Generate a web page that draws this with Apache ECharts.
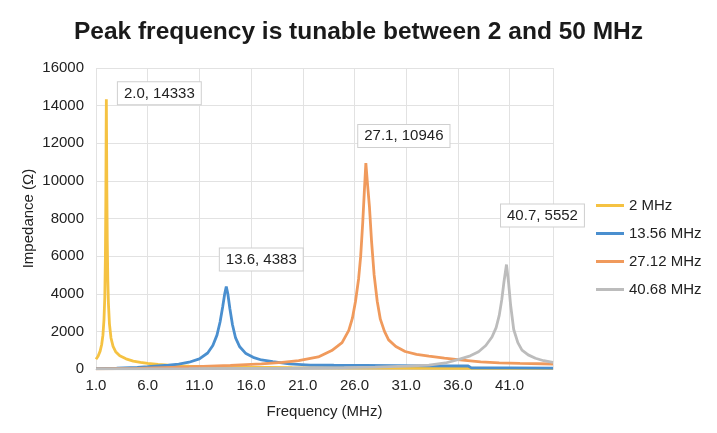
<!DOCTYPE html>
<html lang="en">
<head>
    <meta charset="UTF-8">
    <title>Peak frequency is tunable between 2 and 50 MHz</title>
    <script src="https://cdn.jsdelivr.net/npm/echarts@6/dist/echarts.min.js"></script>
    <style>
        body { margin: 0; background: #fff; }
    </style>
</head>
<body>
    <div id="chart" style="width: 717px; height: 433px;"></div>

    <script>
        // Series names (legend)
        var seriesNames = ['2 MHz', '13.56 MHz', '27.12 MHz', '40.68 MHz'];

        // [frequency MHz, impedance ohm]
        var curve2 = [
            [1.0, 520], [1.2, 680], [1.4, 950], [1.55, 1300], [1.67, 1800], [1.77, 2600],
            [1.85, 3800], [1.91, 6000], [1.95, 9000], [1.98, 12500], [2.0, 14333],
            [2.02, 12500], [2.05, 9500], [2.09, 6800], [2.14, 4800], [2.2, 3500],
            [2.3, 2400], [2.45, 1650], [2.65, 1200], [2.9, 920], [3.3, 700], [3.9, 540],
            [4.6, 420], [5.3, 350], [6.0, 300], [7.0, 240], [8.0, 200], [9.0, 170],
            [10.0, 150], [12.0, 120], [15.0, 95], [20.0, 70], [25.0, 55], [30.0, 45],
            [35.0, 40], [40.0, 35], [45.2, 30]
        ];
        var curve13 = [
            [1.0, 20], [3.0, 50], [5.0, 90], [6.0, 120], [7.0, 160], [8.0, 200], [9.0, 260],
            [10.0, 360], [11.0, 540], [11.8, 850], [12.3, 1250], [12.7, 1800], [13.0, 2500],
            [13.25, 3300], [13.45, 4000], [13.6, 4383], [13.75, 4000], [13.95, 3200],
            [14.2, 2350], [14.5, 1650], [14.9, 1180], [15.5, 820], [16.2, 620], [17.0, 480],
            [18.1, 390], [19.7, 270], [21.7, 210], [24.0, 200], [27.0, 190], [30.0, 180],
            [33.0, 170], [37.0, 160], [37.3, 60], [41.0, 55], [45.2, 50]
        ];
        var curve27 = [
            [1.0, 10], [5.0, 30], [10.0, 110], [14.0, 190], [17.0, 270], [19.0, 350],
            [20.6, 440], [22.5, 640], [23.8, 980], [24.8, 1400], [25.45, 2050], [25.8, 2700],
            [26.1, 3600], [26.4, 4800], [26.6, 6000], [26.8, 7800], [26.95, 9400],
            [27.1, 10946], [27.25, 9900], [27.45, 8600], [27.65, 6800], [27.9, 5000],
            [28.2, 3600], [28.5, 2650], [28.9, 2000], [29.3, 1550], [30.0, 1200],
            [30.9, 930], [32.0, 780], [33.2, 680], [34.7, 580], [36.2, 490], [38.2, 380],
            [40.0, 330], [42.0, 300], [45.2, 265]
        ];
        var curve40 = [
            [1.0, 5], [10.0, 15], [20.0, 40], [25.0, 70], [28.0, 100], [31.0, 150],
            [33.2, 210], [34.8, 320], [36.1, 510], [37.2, 700], [38.0, 920], [38.7, 1250],
            [39.3, 1700], [39.7, 2200], [40.0, 2850], [40.25, 3700], [40.45, 4600],
            [40.7, 5552], [40.9, 4600], [41.1, 3400], [41.4, 2100], [41.8, 1400],
            [42.2, 1000], [42.8, 750], [43.5, 570], [44.3, 440], [45.2, 350]
        ];

        var colors = ['#F5C242', '#4A8FCF', '#F09A5C', '#BCBCBC'];
        // label box offsets from the peak, in pixels
        var labelOffsets = [[53, -6], [35, -27], [38, -27], [36, -49]];

        var font = 'Liberation Sans, Arial, Helvetica, sans-serif';

        function peakOf(arr) {
            var best = arr[0];
            arr.forEach(function (p) { if (p[1] > best[1]) best = p; });
            return best;
        }

        function makeSeries(name, data, i) {
            var pk = peakOf(data);
            return {
                name: name,
                type: 'line',
                data: data,
                showSymbol: false,
                symbol: 'none',
                lineStyle: { width: 2.8, color: colors[i] },
                itemStyle: { color: colors[i] },
                z: 2 + i,
                markPoint: {
                    symbol: 'circle',
                    symbolSize: 0,
                    silent: true,
                    data: [{ coord: pk, value: pk[1] }],
                    label: {
                        show: true,
                        position: 'inside',
                        offset: labelOffsets[i],
                        formatter: pk[0].toFixed(1) + ', ' + pk[1],
                        fontFamily: font,
                        fontSize: 15,
                        lineHeight: 16,
                        color: '#222',
                        backgroundColor: '#fff',
                        borderColor: '#cfcfcf',
                        borderWidth: 1,
                        padding: [3, 6]
                    }
                }
            };
        }

        var chart = echarts.init(document.getElementById('chart'));

        var option = {
            animation: false,
            title: {
                text: 'Peak frequency is tunable between 2 and 50 MHz',
                left: 'center',
                top: 15,
                textStyle: { fontFamily: font, fontSize: 24.5, fontWeight: 'bold', color: '#1a1a1a' }
            },
            legend: {
                orient: 'vertical',
                left: 591,
                top: 193,
                icon: 'rect',
                itemWidth: 28,
                itemHeight: 3,
                itemGap: 13,
                textStyle: { fontFamily: font, fontSize: 15, color: '#222' },
                data: seriesNames
            },
            grid: { left: 96, right: 164, top: 68, bottom: 64 },
            xAxis: {
                type: 'value',
                min: 1,
                max: 45.2,
                interval: 5,
                name: 'Frequency (MHz)',
                nameLocation: 'middle',
                nameGap: 35,
                nameTextStyle: { fontFamily: font, fontSize: 15, color: '#222' },
                axisLine: { lineStyle: { color: '#c8c8c8' } },
                axisTick: { show: false },
                axisLabel: {
                    fontFamily: font, fontSize: 15, color: '#222', margin: 9,
                    showMaxLabel: false,
                    formatter: function (v) { return v.toFixed(1); }
                },
                splitLine: { show: true, lineStyle: { color: '#e2e2e2' } }
            },
            yAxis: {
                type: 'value',
                min: 0,
                max: 16000,
                interval: 2000,
                name: 'Impedance (Ω)',
                nameLocation: 'middle',
                nameGap: 60,
                nameMoveOverlap: false,
                nameTextStyle: { fontFamily: font, fontSize: 15, color: '#222' },
                axisLine: { show: false },
                axisTick: { show: false },
                axisLabel: {
                    fontFamily: font, fontSize: 15, color: '#222', margin: 12,
                    formatter: function (v) { return String(v); }
                },
                splitLine: { lineStyle: { color: '#e2e2e2' } }
            },
            series: [
                makeSeries(seriesNames[0], curve2, 0),
                makeSeries(seriesNames[1], curve13, 1),
                makeSeries(seriesNames[2], curve27, 2),
                makeSeries(seriesNames[3], curve40, 3)
            ]
        };

        chart.setOption(option);
    </script>
</body>
</html>
